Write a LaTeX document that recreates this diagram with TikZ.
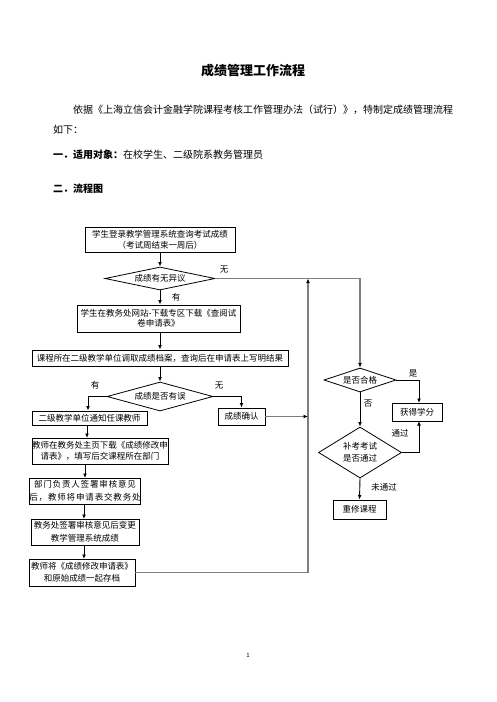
\documentclass[tikz,border=0pt]{standalone}
\usepackage{fontspec}
\setmainfont{Noto Sans CJK SC}
\newfontfamily\cjkwide[LetterSpace=10]{Noto Sans CJK SC}
\usetikzlibrary{shapes.geometric,arrows.meta}
\definecolor{lgray}{RGB}{125,125,125}
\tikzset{
  box/.style={draw, line width=0.9pt, inner sep=0pt, align=center, font=\fontsize{8.5}{11}\selectfont},
  dia/.style={diamond, draw, line width=0.8pt, inner sep=0pt},
  arr/.style={-{Latex[length=4.5pt,width=3.8pt]}, line width=0.9pt},
  garr/.style={-{Latex[length=4.5pt,width=3.8pt,color=black]}, draw=lgray, line width=1.4pt},
  lbl/.style={font=\fontsize{8.5}{10}\selectfont, inner sep=0pt},
  body/.style={font=\fontsize{10}{12}\selectfont, inner sep=0pt, anchor=west}
}
\begin{document}
\begin{tikzpicture}[x=1pt,y=-1pt]
\useasboundingbox[fill=white] (0,0) rectangle (496,702);
% header texts
\node[font=\fontsize{13}{15}\selectfont\bfseries, inner sep=0pt] (title) at (253,71) {成绩管理工作流程};
\node[body] (p1) at (73,110) {依据《上海立信会计金融学院课程考核工作管理办法（试行）》，特制定成绩管理流程};
\node[body] (p2) at (53,130) {如下：};
\node[body] (p3) at (53,155) {\textbf{一．适用对象：}在校学生、二级院系教务管理员};
\node[body] (p4) at (53,189) {\textbf{二．流程图}};
\node[font=\fontsize{6}{7}\selectfont, inner sep=0pt] (pg) at (248,655) {1};

% left column
\node[box, minimum width=150pt, minimum height=25pt, font=\fontsize{8.5}{11}\selectfont] (b1) at (160,239.5) {学生登录教学管理系统查询考试成绩\\（考试周结束一周后）};
\node[dia, minimum width=110pt, minimum height=23pt, label={[lbl]center:成绩有无异议}] (d1) at (160,278.5) {};
\node[box, minimum width=163pt, minimum height=27pt, font=\fontsize{8.5}{10.5}\selectfont] (b2) at (158.5,318.5) {学生在教务处网站-下载专区下载《查阅试\\卷申请表》};
\node[box, minimum width=256pt, minimum height=16pt] (b3) at (160,358) {课程所在二级教学单位调取成绩档案，查询后在申请表上写明结果};
\node[dia, minimum width=106pt, minimum height=29pt, label={[lbl]center:成绩是否有误}] (d2) at (160,396.5) {};
\node[box, minimum width=115pt, minimum height=14pt] (b4) at (89.5,418) {二级教学单位通知任课教师};
\node[box, minimum width=47pt, minimum height=17pt] (ok) at (241.5,416.5) {成绩确认};
\node[box, minimum width=136pt, minimum height=26pt, font=\fontsize{8.5}{10.5}\selectfont] (b5) at (100,451) {教师在教务处主页下载《成绩修改申\\请表》，填写后交课程所在部门};
\node[box, minimum width=108pt, minimum height=26pt, font=\fontsize{8.5}{13.5}\selectfont\cjkwide] (b6) at (85,491) {部门负责人签署审核意见\\后，教师将申请表交教务处};
\node[box, minimum width=108pt, minimum height=26pt, font=\fontsize{8.5}{12.5}\selectfont] (b7) at (85,532) {教务处签署审核意见后变更\\教学管理系统成绩};
\node[box, minimum width=106pt, minimum height=27pt, font=\fontsize{8.5}{12}\selectfont] (b8) at (82,572.5) {教师将《成绩修改申请表》\\和原始成绩一起存档};

% right column
\node[dia, minimum width=72pt, minimum height=24pt, label={[lbl]center:是否合格}] (d3) at (360,380) {};
\node[box, minimum width=50pt, minimum height=18pt] (gain) at (417,412) {获得学分};
\node[dia, minimum width=83pt, minimum height=51pt, label={[lbl, align=center, font=\fontsize{8.5}{12}\selectfont]center:补考考试\\是否通过}] (d4) at (360,452.5) {};
\node[box, minimum width=53pt, minimum height=19pt] (redo) at (359.5,509.5) {重修课程};

\coordinate (j1) at (308,278.5);

% connectors left
\draw[arr] (b1.south) -- (b1.south |- d1.north);
\draw[arr] (d1.south) -- (d1.south |- b2.north);
\draw[arr] (b2.south -| d1.south) -- (d1.south |- b3.north);
\draw[arr] (b3.south) -- (b3.south |- d2.north);
\draw[arr] (d2.west) -- (88,396.5) -- (88,418 |- b4.north);
\draw[arr] (d2.east) -- (ok.north |- d2.east) -- (ok.north);
\draw[arr] (87,425) -- (87,438);
\draw[arr] (85,464) -- (85,478);
\draw[arr] (84,504) -- (84,519);
\draw[arr] (84,545) -- (84,559);

% gray connectors
\draw[garr] (d1.east) -- (360,278.5) -- (d3.north);
\draw[garr] (b8.east) -- (308,572.5) -- (j1);
\draw[garr] (ok.east) -- (308,416.5);

% connectors right
\draw[arr] (d3.east) -- (419,380) -- (419,403);
\draw[arr] (d3.south) -- (d4.north);
\draw[arr] (d4.east) -- (419,452.5) -- (419,421);
\draw[arr] (d4.south) -- (redo.north);

% labels
\node[lbl] (l1) at (224,270) {无};
\node[lbl] (l2) at (176,297) {有};
\node[lbl] (l3) at (95,385) {有};
\node[lbl] (l4) at (219,386) {无};
\node[lbl] (l5) at (413,373) {是};
\node[lbl] (l6) at (368,404) {否};
\node[lbl] (l7) at (400,433) {通过};
\node[lbl] (l8) at (384,487) {未通过};
\end{tikzpicture}
\end{document}
